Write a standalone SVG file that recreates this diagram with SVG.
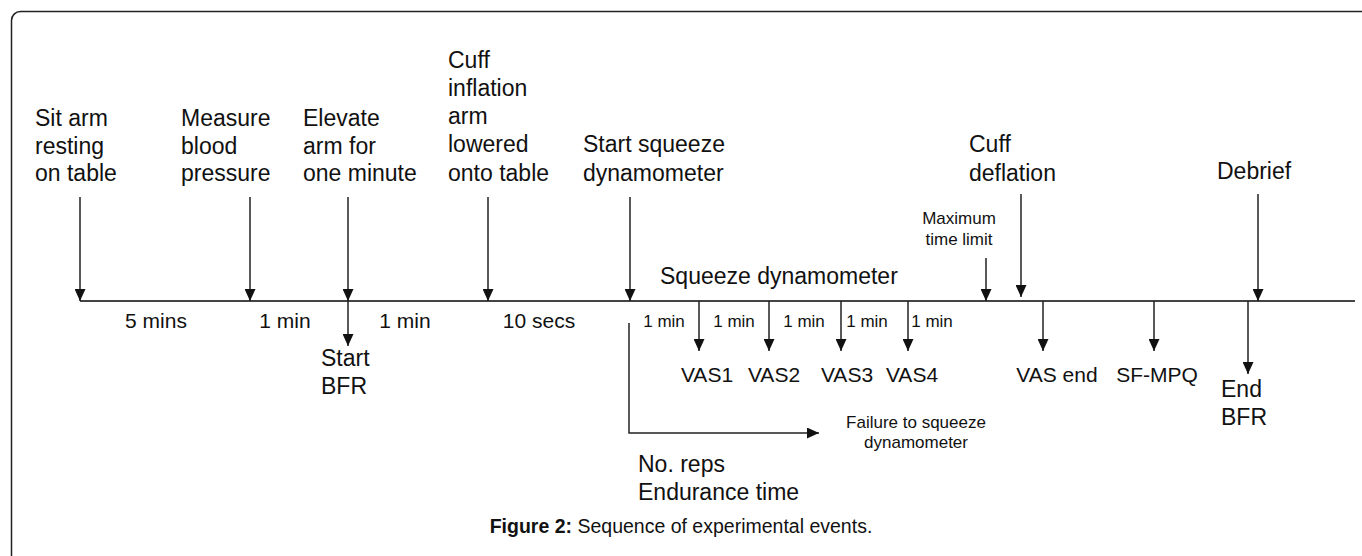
<svg xmlns="http://www.w3.org/2000/svg" width="1362" height="556" viewBox="0 0 1362 556">
<style>
text{font-family:"Liberation Sans",Arial,sans-serif;fill:#111}
.big{font-size:23px}
.mid{font-size:21px}
.sm{font-size:17px}
.cap{font-size:19.5px}
.arr{stroke:#222;stroke-width:1.5;fill:none;marker-end:url(#ah)}
</style>
<defs>
<marker id="ah" markerUnits="userSpaceOnUse" markerWidth="12" markerHeight="11" refX="12" refY="5.5" orient="auto">
<path d="M0,0 L12,5.5 L0,11 z" fill="#111"/>
</marker>
</defs>
<rect x="11.5" y="11.5" width="1400" height="600" rx="9" fill="#fff" stroke="#222" stroke-width="1.5"/>

<g id="connectors">
<line id="timeline" x1="80" y1="301" x2="1355" y2="301" stroke="#444" stroke-width="2"/>
<line class="arr" x1="80" y1="197" x2="80" y2="301"/>
<line class="arr" x1="250" y1="197" x2="250" y2="301"/>
<line class="arr" x1="348" y1="197" x2="348" y2="301"/>
<line class="arr" x1="488" y1="197" x2="488" y2="301"/>
<line class="arr" x1="630" y1="197" x2="630" y2="301"/>
<line class="arr" x1="986" y1="258" x2="986" y2="301"/>
<line class="arr" x1="1021" y1="194" x2="1021" y2="297"/>
<line class="arr" x1="1258" y1="194" x2="1258" y2="301"/>
<line class="arr" x1="348" y1="301" x2="348" y2="346"/>
<line class="arr" x1="699" y1="301" x2="699" y2="351"/>
<line class="arr" x1="769" y1="301" x2="769" y2="351"/>
<line class="arr" x1="841" y1="301" x2="841" y2="351"/>
<line class="arr" x1="908" y1="301" x2="908" y2="351"/>
<line class="arr" x1="1043" y1="301" x2="1043" y2="351"/>
<line class="arr" x1="1154" y1="301" x2="1154" y2="351"/>
<line class="arr" x1="1248" y1="301" x2="1248" y2="374"/>
<path class="arr" d="M629,323 V433 H819"/>
</g>

<g id="n-sit"><text class="big" x="35" y="126">Sit arm</text><text class="big" x="35" y="154">resting</text><text class="big" x="35" y="181">on table</text></g>
<g id="n-measure"><text class="big" x="181" y="126">Measure</text><text class="big" x="181" y="154">blood</text><text class="big" x="181" y="181">pressure</text></g>
<g id="n-elevate"><text class="big" x="303" y="126">Elevate</text><text class="big" x="303" y="154">arm for</text><text class="big" x="303" y="181">one minute</text></g>
<g id="n-cuffinfl"><text class="big" x="448" y="68">Cuff</text><text class="big" x="448" y="96">inflation</text><text class="big" x="448" y="124">arm</text><text class="big" x="448" y="152">lowered</text><text class="big" x="448" y="181">onto table</text></g>
<g id="n-startsq"><text class="big" x="583" y="152">Start squeeze</text><text class="big" x="583" y="181">dynamometer</text></g>
<g id="n-cuffdefl"><text class="big" x="969" y="152">Cuff</text><text class="big" x="969" y="181">deflation</text></g>
<g id="n-debrief"><text class="big" x="1217" y="179">Debrief</text></g>
<g id="n-squeeze"><text class="big" x="660" y="284">Squeeze dynamometer</text></g>
<g id="n-maxtime"><text class="sm" x="959" y="224" text-anchor="middle">Maximum</text><text class="sm" x="959" y="245" text-anchor="middle">time limit</text></g>

<g id="intervals">
<text class="mid" x="156" y="328" text-anchor="middle">5 mins</text>
<text class="mid" x="285" y="328" text-anchor="middle">1 min</text>
<text class="mid" x="405" y="328" text-anchor="middle">1 min</text>
<text class="mid" x="539" y="328" text-anchor="middle">10 secs</text>
<text class="sm" x="664" y="327" text-anchor="middle">1 min</text>
<text class="sm" x="734" y="327" text-anchor="middle">1 min</text>
<text class="sm" x="804" y="327" text-anchor="middle">1 min</text>
<text class="sm" x="867" y="327" text-anchor="middle">1 min</text>
<text class="sm" x="932" y="327" text-anchor="middle">1 min</text>
</g>

<g id="n-startbfr"><text class="big" x="321" y="366">Start</text><text class="big" x="321" y="394">BFR</text></g>
<g id="n-vas1"><text class="mid" x="707" y="382" text-anchor="middle">VAS1</text></g>
<g id="n-vas2"><text class="mid" x="774" y="382" text-anchor="middle">VAS2</text></g>
<g id="n-vas3"><text class="mid" x="847" y="382" text-anchor="middle">VAS3</text></g>
<g id="n-vas4"><text class="mid" x="912" y="382" text-anchor="middle">VAS4</text></g>
<g id="n-vasend"><text class="mid" x="1057" y="382" text-anchor="middle">VAS end</text></g>
<g id="n-sfmpq"><text class="mid" x="1157" y="382" text-anchor="middle">SF-MPQ</text></g>
<g id="n-endbfr"><text class="big" x="1221" y="397">End</text><text class="big" x="1221" y="425">BFR</text></g>
<g id="n-failure"><text class="sm" x="916" y="428" text-anchor="middle">Failure to squeeze</text><text class="sm" x="916" y="448" text-anchor="middle">dynamometer</text></g>
<g id="n-reps"><text class="big" x="638" y="472">No. reps</text><text class="big" x="638" y="500">Endurance time</text></g>

<g id="caption"><text class="cap" x="681" y="533" text-anchor="middle"><tspan font-weight="bold">Figure 2:</tspan> Sequence of experimental events.</text></g>
</svg>
